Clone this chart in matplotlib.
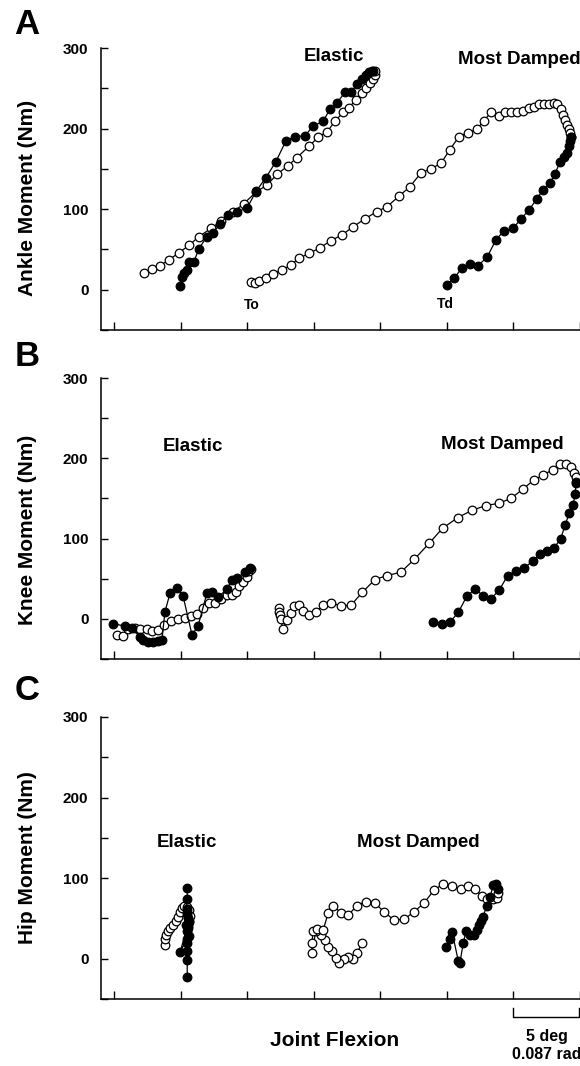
import matplotlib
matplotlib.use("Agg")
import matplotlib.pyplot as plt
from matplotlib.ticker import MultipleLocator

plt.rcParams['font.family'] = ['Liberation Sans', 'DejaVu Sans']
plt.rcParams['font.weight'] = 'bold'

# ---------------- Panel A: Ankle ----------------
ankle_el_open_x = [2.25, 2.85, 3.45, 4.13, 4.88, 5.63, 6.38, 7.28, 8.04, 8.94, 9.76, 10.66, 11.49,
                   12.24, 13.07, 13.74, 14.64, 15.32, 16.00, 16.60, 17.20, 17.65, 18.17, 18.62,
                   18.93, 19.23, 19.45, 19.60, 19.60, 19.45]
ankle_el_open_y = [21, 26, 30, 37, 46, 55, 66, 76, 85, 96, 107, 121, 130, 143, 154, 164, 178, 189,
                   196, 209, 220, 226, 236, 244, 250, 257, 262, 267, 271, 272]
ankle_el_fill_x = [4.96, 5.08, 5.26, 5.48, 5.63, 6.01, 6.38, 6.98, 7.43, 7.96, 8.56, 9.24, 9.99,
                   10.66, 11.41, 12.16, 12.92, 13.59, 14.34, 14.94, 15.70, 16.22, 16.75, 17.35,
                   17.80, 18.25, 18.62, 18.93, 19.15, 19.38]
ankle_el_fill_y = [4, 16, 21, 24, 34, 35, 51, 66, 71, 81, 93, 97, 101, 122, 139, 159, 185, 190, 191,
                   203, 209, 224, 232, 245, 245, 255, 261, 266, 270, 271]
ankle_md_open_x = [10.27, 10.59, 10.89, 11.42, 11.94, 12.62, 13.29, 13.89, 14.64, 15.47, 16.30,
                   17.12, 17.95, 18.85, 19.75, 20.50, 21.40, 22.23, 23.06, 23.81, 24.56, 25.23,
                   25.91, 26.59, 27.26, 27.79, 28.31, 28.91, 29.36, 29.81, 30.27, 30.72, 31.17,
                   31.54, 31.92, 32.29, 32.67, 33.04, 33.27, 33.57, 33.72, 33.87, 34.02, 34.17,
                   34.25, 34.32]
ankle_md_open_y = [9, 8, 11, 15, 20, 24, 31, 39, 45, 52, 61, 68, 78, 88, 97, 103, 116, 128, 145,
                   150, 157, 174, 190, 195, 199, 210, 220, 216, 221, 220, 220, 222, 225, 227, 230,
                   231, 231, 232, 230, 224, 217, 211, 205, 199, 195, 190]
ankle_md_fill_x = [25.01, 25.53, 26.13, 26.74, 27.34, 28.01, 28.69, 29.29, 29.96, 30.57, 31.17,
                   31.77, 32.22, 32.74, 33.12, 33.49, 33.80, 34.02, 34.17, 34.25, 34.32]
ankle_md_fill_y = [6, 14, 27, 32, 30, 40, 62, 73, 76, 88, 99, 113, 124, 132, 144, 158, 165, 170,
                   178, 184, 190]

# ---------------- Panel B: Knee ----------------
knee_el_open_x = [0.23, 0.68, 1.05, 1.58, 1.95, 2.48, 2.85, 3.30, 3.76, 4.28, 4.81, 5.33, 5.78,
                  6.23, 6.68, 7.13, 7.59, 8.04, 8.49, 8.86, 9.16, 9.39, 9.69, 9.99, 10.14, 10.29]
knee_el_open_y = [-20, -21, -13, -11, -13, -13, -15, -14, -8, -3, 0, 1, 4, 6, 14, 20, 20, 25, 30,
                  30, 34, 41, 46, 52, 60, 62]
knee_el_fill_x = [-0.08, 0.83, 1.35, 1.95, 2.18, 2.55, 2.93, 3.30, 3.60, 3.83, 4.21, 4.73, 5.18,
                  5.86, 6.31, 6.98, 7.36, 7.81, 8.49, 8.86, 9.24, 9.84, 10.21]
knee_el_fill_y = [-6, -9, -12, -22, -26, -29, -29, -27, -26, 9, 32, 38, 29, -20, -9, 32, 34, 27,
                  37, 49, 51, 58, 63]
knee_md_open_x = [12.41, 12.39, 12.47, 12.54, 12.67, 12.97, 13.27, 13.54, 13.89, 14.22, 14.64,
                  15.15, 15.67, 16.30, 17.05, 17.80, 18.65, 19.60, 20.52, 21.53, 22.55, 23.66,
                  24.69, 25.81, 26.86, 27.91, 28.91, 29.81, 30.74, 31.54, 32.24, 32.95, 33.49,
                  33.95, 34.30, 34.55, 34.70, 34.70]
knee_md_open_y = [13, 9, 5, 0, -13, -1, 7, 16, 17, 10, 5, 8, 17, 20, 16, 17, 33, 49, 54, 58, 74,
                  94, 113, 126, 135, 141, 144, 150, 162, 173, 179, 186, 193, 193, 189, 182, 177,
                  170]
knee_md_fill_x = [23.98, 24.66, 25.23, 25.86, 26.49, 27.11, 27.73, 28.31, 28.94, 29.57, 30.19,
                  30.79, 31.44, 31.99, 32.50, 33.04, 33.55, 33.89, 34.19, 34.49, 34.64, 34.70]
knee_md_fill_y = [-4, -6, -4, 8, 28, 37, 29, 25, 36, 54, 60, 63, 72, 81, 85, 88, 100, 117, 132,
                  142, 156, 169]

# ---------------- Panel C: Hip ----------------
hip_el_open_x = [3.83, 3.83, 3.91, 4.06, 4.21, 4.43, 4.66, 4.81, 4.96, 5.11, 5.26, 5.48, 5.63,
                 5.71, 5.63, 5.56]
hip_el_open_y = [17, 24, 30, 35, 38, 42, 47, 52, 58, 63, 66, 64, 60, 53, 47, 41]
hip_el_fill_x = [5.50, 5.50, 5.50, 5.45, 5.60, 5.50, 5.40, 5.55, 5.50, 5.60, 4.96, 5.50, 5.55,
                 5.50, 5.45, 5.50, 5.50]
hip_el_fill_y = [-23, -2, 10, 20, 28, 35, 42, 50, 58, 45, 8, 25, 38, 55, 62, 74, 88]
hip_md_open_x = [18.60, 18.27, 17.93, 17.60, 17.27, 16.92, 16.65, 16.39, 16.09, 15.85, 15.55,
                 15.17, 14.85, 14.89, 14.92, 15.25, 15.72, 16.09, 16.47, 17.03, 17.60, 18.23,
                 18.90, 19.60, 20.30, 21.03, 21.78, 22.53, 23.28, 24.03, 24.73, 25.36, 26.04,
                 26.61, 27.11, 27.61, 28.03, 28.44, 28.74, 28.86]
hip_md_open_y = [19, 7, 0, 2, 0, -5, 1, 9, 15, 23, 30, 35, 7, 20, 35, 37, 36, 57, 66, 57, 54, 66,
                 71, 69, 58, 48, 49, 58, 69, 85, 93, 90, 87, 90, 87, 78, 74, 74, 75, 81]
hip_md_fill_x = [24.91, 25.23, 25.40, 25.86, 25.98, 26.23, 26.44, 26.74, 27.06, 27.24, 27.43,
                 27.56, 27.73, 27.99, 28.24, 28.49, 28.69, 28.86]
hip_md_fill_y = [15, 24, 33, -3, -5, 19, 34, 29, 30, 36, 42, 47, 52, 66, 77, 91, 93, 86]

ylabels = ["Ankle Moment (Nm)", "Knee Moment (Nm)", "Hip Moment (Nm)"]
panel_letters = ["A", "B", "C"]
yticks = [0, 100, 200, 300]

W, H = 580, 1066
fig = plt.figure(figsize=(W / 100, H / 100), dpi=100)

def px_axes(left, top, right, bottom):
    return fig.add_axes([left / W, 1 - bottom / H, (right - left) / W, (bottom - top) / H])

axes = [px_axes(101, 48, 580, 330), px_axes(101, 378, 580, 659), px_axes(101, 717, 580, 999)]

panels = [
    (ankle_el_open_x, ankle_el_open_y, ankle_el_fill_x, ankle_el_fill_y,
     ankle_md_open_x, ankle_md_open_y, ankle_md_fill_x, ankle_md_fill_y),
    (knee_el_open_x, knee_el_open_y, knee_el_fill_x, knee_el_fill_y,
     knee_md_open_x, knee_md_open_y, knee_md_fill_x, knee_md_fill_y),
    (hip_el_open_x, hip_el_open_y, hip_el_fill_x, hip_el_fill_y,
     hip_md_open_x, hip_md_open_y, hip_md_fill_x, hip_md_fill_y),
]

ms = 6.2
for ax, data, lab in zip(axes, panels, ylabels):
    eox, eoy, efx, efy, mox, moy, mfx, mfy = data
    for (xx, yy, face) in [(eox, eoy, 'white'), (mox, moy, 'white'),
                           (efx, efy, 'black'), (mfx, mfy, 'black')]:
        ax.plot(xx, yy, '-', color='black', lw=0.9, marker='o', ms=ms,
                mfc=face, mec='black', mew=0.9, clip_on=False, zorder=3)
    ax.set_xlim(-0.976, 35.0)
    ax.set_ylim(-50, 300)
    ax.spines['top'].set_visible(False)
    ax.spines['right'].set_visible(False)
    ax.spines['left'].set_linewidth(1.1)
    ax.spines['bottom'].set_linewidth(1.1)
    ax.set_yticks(yticks)
    ax.yaxis.set_minor_locator(MultipleLocator(50))
    ax.xaxis.set_major_locator(MultipleLocator(5))
    ax.set_xticklabels([])
    ax.tick_params(axis='y', which='both', direction='in', length=5, width=1, pad=9,
                   labelsize=11)
    ax.tick_params(axis='x', which='both', direction='in', length=6, width=1)
    for t in ax.get_yticklabels():
        t.set_fontweight('bold')

# y labels and panel letters
for (lab, yc) in zip(ylabels, [198, 530, 858]):
    fig.text(28 / W, 1 - yc / H, lab, rotation=90, ha='center', va='center',
             fontsize=15, fontweight='bold')
for (let, yc) in zip(panel_letters, [25, 356, 691]):
    fig.text(27 / W, 1 - yc / H, let, ha='center', va='center', fontsize=25, fontweight='bold')

# in-panel labels
axA, axB, axC = axes
axA.text(16.52, 289, "Elastic", ha='center', va='center', fontsize=13.5, fontweight='bold')
axA.text(25.83, 286, "Most Damped", ha='left', va='center', fontsize=13.5, fontweight='bold',
         clip_on=False)
axA.text(10.36, -18.6, "To", ha='center', va='center', fontsize=10, fontweight='bold')
axA.text(24.86, -17.4, "Td", ha='center', va='center', fontsize=10, fontweight='bold')
axB.text(5.93, 215, "Elastic", ha='center', va='center', fontsize=13.5, fontweight='bold')
axB.text(29.14, 217, "Most Damped", ha='center', va='center', fontsize=13.5, fontweight='bold')
axC.text(5.48, 144, "Elastic", ha='center', va='center', fontsize=13.5, fontweight='bold')
axC.text(22.83, 144, "Most Damped", ha='center', va='center', fontsize=13.5, fontweight='bold')

# scale bar
axC.plot([30, 30, 34.95, 34.95], [-61, -72, -72, -61], color='black', lw=1, clip_on=False)
axC.text(32.5, -97, "5 deg", ha='center', va='center', fontsize=11.5, fontweight='bold')
axC.text(32.5, -119, "0.087 rad", ha='center', va='center', fontsize=11.5, fontweight='bold')

fig.text(335 / W, 1 - 1040 / H, "Joint Flexion", ha='center', va='center', fontsize=15,
         fontweight='bold')

fig.savefig("out.png", dpi=100)
